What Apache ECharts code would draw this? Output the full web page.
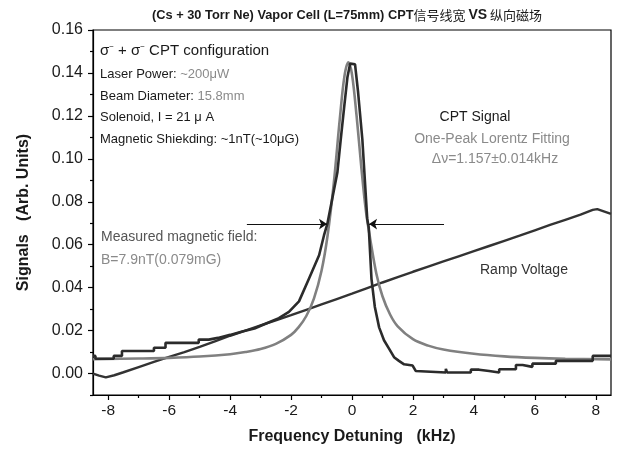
<!DOCTYPE html>
<html>
<head>
<meta charset="utf-8">
<script src="https://cdn.jsdelivr.net/npm/echarts@6/dist/echarts.min.js"></script>
<style>html,body{margin:0;padding:0;background:#fff;}#c{width:617px;height:450px;}</style>
</head>
<body>
<div id="c"></div>
<script>
// ---- data ----
const xMajorTicks = [-8, -6, -4, -2, 0, 2, 4, 6, 8];
const xMinorTicks = [-7, -5, -3, -1, 1, 3, 5, 7];
const yMajorTicks = [0, 0.02, 0.04, 0.06, 0.08, 0.10, 0.12, 0.14, 0.16];
const yMinorTicks = [-0.01, 0.01, 0.03, 0.05, 0.07, 0.09, 0.11, 0.13, 0.15];

// measured CPT signal (staircase trace)
const cptFreq = [-8.50,-8.42,-8.42,-7.82,-7.82,-7.55,-7.55,-6.50,-6.50,-6.12,-6.12,-5.03,-5.03,-4.70,-4.40,-4.00,-3.60,-3.20,-2.80,-2.40,-2.07,-1.74,-1.41,-1.08,-0.92,-0.81,-0.65,-0.48,-0.37,-0.25,-0.15,-0.06,0.10,0.20,0.34,0.50,0.55,0.64,0.75,0.89,1.05,1.22,1.38,1.54,1.71,1.77,1.99,2.09,2.14,3.08,3.08,3.12,3.12,3.90,3.90,4.17,4.17,4.50,4.50,4.83,4.83,5.38,5.38,5.60,5.60,5.92,5.92,6.69,6.69,7.90,7.90,8.50];
const cptVal  = [0.0082,0.0082,0.0069,0.0069,0.0082,0.0082,0.0105,0.0105,0.0120,0.0120,0.0143,0.0143,0.0158,0.0158,0.0166,0.0180,0.0196,0.0210,0.0234,0.0258,0.0287,0.0336,0.0443,0.0551,0.0643,0.0697,0.0813,0.0936,0.1090,0.1250,0.1380,0.1444,0.1440,0.1310,0.1090,0.0720,0.0680,0.0440,0.0310,0.0215,0.0155,0.0115,0.0076,0.0059,0.0043,0.0037,0.0037,0.0012,0.0005,0.0005,0.0022,0.0022,0.0005,0.0005,0.0018,0.0018,0.0012,0.0012,0.0005,0.0005,0.0020,0.0020,0.0040,0.0040,0.0031,0.0031,0.0046,0.0046,0.0059,0.0059,0.0082,0.0082];

// one-peak Lorentz fit (smooth grey curve)
const fitFreq = [-8.5,-7,-6,-5,-4,-3.5,-3,-2.5,-2,-1.75,-1.5,-1.25,-1,-0.8,-0.6,-0.4,-0.25,-0.12,0,0.15,0.3,0.45,0.6,0.8,1,1.25,1.5,2,2.5,3,4,5,6,7,8.5];
const fitVal  = [0.0067,0.0070,0.0073,0.0079,0.0090,0.0100,0.0114,0.0138,0.0180,0.0216,0.0268,0.0349,0.0479,0.0644,0.0883,0.1186,0.1383,0.1450,0.1393,0.1201,0.0970,0.0765,0.0625,0.0465,0.0360,0.0275,0.0220,0.0160,0.0130,0.0112,0.0092,0.0080,0.0073,0.0069,0.0066];

// ramp voltage
const rampFreq = [-8.5,-8.3,-8.08,-7.8,-7.5,-7,-6.5,-6,-5.5,-5,-4.5,-4,-3.5,-3,-2.5,-2,-1.5,-1,-0.5,0,0.5,1,1.5,2,2.5,3,3.5,4,4.5,5,5.5,6,6.5,7,7.5,7.9,8.05,8.5];
const rampVal  = [0.0000,-0.0010,-0.0018,-0.0008,0.0006,0.0030,0.0054,0.0078,0.0100,0.0124,0.0150,0.0176,0.0200,0.0224,0.0248,0.0272,0.0297,0.0322,0.0347,0.0372,0.0398,0.0424,0.0449,0.0474,0.0498,0.0522,0.0546,0.0570,0.0594,0.0618,0.0642,0.0667,0.0692,0.0716,0.0740,0.0762,0.0766,0.0744];

// width arrows (data coordinates)
const arrowLevel = 0.0696;
const arrowLeft  = [-3.45, -0.82];
const arrowRight = [3.02, 0.56];

const zip = (a, b) => a.map((v, i) => [v, b[i]]);

const chart = echarts.init(document.getElementById('c'), null, {renderer: 'canvas'});
const FONT = '"Liberation Sans", Arial, "Noto Sans CJK SC", sans-serif';
const BLACK = '#1a1a1a';
const GREY = '#8a8a8a';

const option = {
  backgroundColor: '#fff',
  animation: false,
  grid: {left: 93, right: 6, top: 30, bottom: 53, show: true, borderColor: '#000', borderWidth: 1.2, backgroundColor: 'transparent'},
  xAxis: [{
    type: 'value', min: -8.5, max: 8.5,
    splitLine: {show: false},
    axisLine: {show: true, onZero: false, lineStyle: {color: '#000', width: 1.2}},
    axisTick: {show: true, customValues: xMajorTicks, length: 5, inside: false, lineStyle: {color: '#000', width: 1.2}},
    axisLabel: {customValues: xMajorTicks, fontSize: 15.5, color: BLACK, fontFamily: FONT, margin: 8},
    name: 'Frequency Detuning   (kHz)', nameLocation: 'middle', nameGap: 34,
    nameTextStyle: {fontSize: 16, fontWeight: 'bold', color: BLACK, fontFamily: FONT}
  }, {
    type: 'value', min: -8.5, max: 8.5, position: 'bottom',
    splitLine: {show: false}, axisLine: {show: false, onZero: false},
    axisTick: {show: true, customValues: xMinorTicks, length: 3, lineStyle: {color: '#000', width: 1.2}},
    axisLabel: {show: false}
  }],
  yAxis: [{
    type: 'value', min: -0.01, max: 0.16,
    splitLine: {show: false},
    axisLine: {show: true, onZero: false, lineStyle: {color: '#000', width: 1.2}},
    axisTick: {show: true, customValues: yMajorTicks, length: 5, lineStyle: {color: '#000', width: 1.2}},
    axisLabel: {customValues: yMajorTicks, fontSize: 16, color: BLACK, fontFamily: FONT, margin: 10,
      formatter: v => v.toFixed(2)},
    name: 'Signals   (Arb. Units)', nameLocation: 'middle', nameGap: 61, nameRotate: 90,
    nameTextStyle: {fontSize: 16, fontWeight: 'bold', color: BLACK, fontFamily: FONT}
  }, {
    type: 'value', min: -0.01, max: 0.16, position: 'left',
    splitLine: {show: false}, axisLine: {show: false, onZero: false},
    axisTick: {show: true, customValues: yMinorTicks, length: 3, lineStyle: {color: '#000', width: 1.2}},
    axisLabel: {show: false}
  }],
  series: [
    {type: 'line', name: 'Ramp Voltage', data: zip(rampFreq, rampVal), showSymbol: false, symbol: 'none',
      lineStyle: {color: '#333', width: 2.4}, z: 2},
    {type: 'line', name: 'Lorentz Fit', data: zip(fitFreq, fitVal), showSymbol: false, symbol: 'none', smooth: 0.35,
      lineStyle: {color: '#808080', width: 2.6}, z: 3},
    {type: 'line', name: 'CPT Signal', data: zip(cptFreq, cptVal), showSymbol: false, symbol: 'none',
      lineStyle: {color: '#2b2b2b', width: 2.6}, z: 4},
    {type: 'lines', coordinateSystem: 'cartesian2d', z: 5,
      symbol: ['none', 'arrow'], symbolSize: [0, 8],
      lineStyle: {color: '#111', width: 1, opacity: 1},
      data: [
        {coords: [[arrowLeft[0], arrowLevel], [arrowLeft[1], arrowLevel]]},
        {coords: [[arrowRight[0], arrowLevel], [arrowRight[1], arrowLevel]]}
      ]}
  ],
  graphic: [
    {type: 'text', style: {x: 347, y: 15, align: 'center', verticalAlign: 'middle',
      text: '{b|(Cs + 30 Torr Ne) Vapor Cell (L=75mm) CPT}{c|信号线宽 }{v|VS}{c| 纵向磁场}',
      rich: {
        b: {fontSize: 12.8, fontWeight: 'bold', fontFamily: FONT, fill: BLACK},
        c: {fontSize: 13, fontFamily: '"Noto Sans CJK SC", sans-serif', fill: BLACK},
        v: {fontSize: 14, fontWeight: 'bold', fontFamily: FONT, fill: BLACK}
      }}},
    {type: 'text', z: 10, style: {x: 100, y: 51, verticalAlign: 'middle',
      text: '{t|σ}{s|−}{t| + σ}{s|−}{t| CPT configuration}',
      rich: {
        t: {fontSize: 15, fontFamily: FONT, fill: BLACK},
        s: {fontSize: 8, fontFamily: FONT, fill: BLACK, verticalAlign: 'top', padding: [0, 0, 8, 0]}
      }}},
    {type: 'text', z: 10, style: {x: 100, y: 74, verticalAlign: 'middle',
      text: '{k|Laser Power: }{g|~200μW}',
      rich: {k: {fontSize: 13, fontFamily: FONT, fill: BLACK}, g: {fontSize: 13, fontFamily: FONT, fill: GREY}}}},
    {type: 'text', z: 10, style: {x: 100, y: 96, verticalAlign: 'middle',
      text: '{k|Beam Diameter: }{g|15.8mm}',
      rich: {k: {fontSize: 13, fontFamily: FONT, fill: BLACK}, g: {fontSize: 13, fontFamily: FONT, fill: GREY}}}},
    {type: 'text', z: 10, style: {x: 100, y: 117, verticalAlign: 'middle',
      text: 'Solenoid, I = 21 μ A', font: '13px ' + FONT, fill: BLACK}},
    {type: 'text', z: 10, style: {x: 100, y: 139, verticalAlign: 'middle',
      text: 'Magnetic Shiekding: ~1nT(~10μG)', font: '13px ' + FONT, fill: BLACK}},
    {type: 'text', z: 10, style: {x: 475, y: 117, align: 'center', verticalAlign: 'middle',
      text: 'CPT Signal', font: '14px ' + FONT, fill: BLACK}},
    {type: 'text', z: 10, style: {x: 492, y: 139, align: 'center', verticalAlign: 'middle',
      text: 'One-Peak Lorentz Fitting', font: '14px ' + FONT, fill: GREY}},
    {type: 'text', z: 10, style: {x: 495, y: 159, align: 'center', verticalAlign: 'middle',
      text: 'Δν=1.157±0.014kHz', font: '14px ' + FONT, fill: GREY}},
    {type: 'text', z: 10, style: {x: 101, y: 237, verticalAlign: 'middle',
      text: 'Measured magnetic field:', font: '14px ' + FONT, fill: '#555'}},
    {type: 'text', z: 10, style: {x: 101, y: 260, verticalAlign: 'middle',
      text: 'B=7.9nT(0.079mG)', font: '14px ' + FONT, fill: GREY}},
    {type: 'text', z: 10, style: {x: 480, y: 270, verticalAlign: 'middle',
      text: 'Ramp Voltage', font: '14px ' + FONT, fill: '#333'}}
  ]
};
chart.setOption(option);
</script>
</body>
</html>
